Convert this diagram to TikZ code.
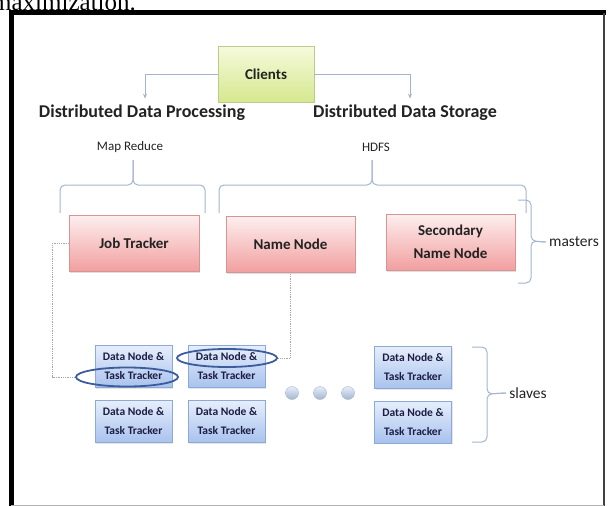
\documentclass[tikz,border=0pt]{standalone}
\usepackage{fontspec}
\setmainfont{Carlito}
\newfontfamily\bodyserif{Liberation Serif}
\usetikzlibrary{positioning,
        shapes,
        shadows,
        arrows.meta}
\definecolor{linkgray}{HTML}{A3B5CE}
\definecolor{clienttop}{HTML}{F6FADC}
\definecolor{clientbot}{HTML}{D5E88F}
\definecolor{clientline}{HTML}{B9CC8C}
\definecolor{mastertop}{HTML}{FDEFEF}
\definecolor{masterbot}{HTML}{F29F9F}
\definecolor{masterline}{HTML}{D89494}
\definecolor{slavetop}{HTML}{E6EEFB}
\definecolor{slavebot}{HTML}{A8C2EE}
\definecolor{slaveline}{HTML}{8DA9D8}
\definecolor{ringblue}{HTML}{3D5C9C}
\definecolor{darktext}{HTML}{222222}

\begin{document}
\begin{tikzpicture}[x=1pt, y=-1pt,
    clientbox/.style={rectangle, draw=clientline, top color=clienttop, bottom color=clientbot,
        minimum width=96pt, minimum height=56pt, font=\bfseries\fontsize{15}{17}\selectfont, text=darktext},
    masterbox/.style={rectangle, draw=masterline, top color=mastertop, bottom color=masterbot,
        minimum width=130pt, minimum height=56pt, align=center,
        font=\bfseries\fontsize{15}{23}\selectfont, text=darktext,
        drop shadow={shadow xshift=1pt, shadow yshift=-1.5pt, opacity=0.25}},
    slavebox/.style={rectangle, draw=slaveline, top color=slavetop, bottom color=slavebot,
        minimum width=77pt, minimum height=42pt, align=center, inner sep=1pt,
        font=\bfseries\fontsize{11.5}{19}\selectfont, text=darktext!85!blue,
        drop shadow={shadow xshift=1pt, shadow yshift=-1pt, opacity=0.2}},
    ring/.style={ellipse, draw=ringblue, line width=1.8pt, inner sep=0pt},
    dot/.style={circle, draw=linkgray, top color=slavetop, bottom color=linkgray, minimum size=13pt, inner sep=0pt},
    head/.style={font=\bfseries\fontsize{18}{20}\selectfont, text=darktext},
    sub/.style={font=\fontsize{13}{15}\selectfont, text=darktext},
    tag/.style={font=\fontsize{15.5}{17}\selectfont, text=darktext},
    link/.style={draw=linkgray, line width=1pt},
    bracket/.style={draw=linkgray, line width=1pt, rounded corners=5pt},
    dotline/.style={draw=black!35, line width=0.8pt, densely dotted}]
    \useasboundingbox (0,0) rectangle (608,506);

    % page text and frame
    \node [anchor=base west, inner sep=0pt, font=\bodyserif\fontsize{25}{25}\selectfont] (pagetext) at (-8,10.5) {maximization.};
    \draw [line width=5pt] (11,508) -- (11,12.5) -- (606,12.5);
    \draw [line width=2.5pt, black!75] (604,12.5) -- (604,506);
    \draw [line width=1pt, black!30] (11,505.5) -- (604,505.5);

    % clients and the two layers
    \node [clientbox] (clients) at (266,74) {Clients};
    \node [head] (dproc) at (142,113) {Distributed Data Processing};
    \node [head] (dstore) at (405,113) {Distributed Data Storage};
    \node [sub] (mapred) at (130,147) {Map Reduce};
    \node [sub] (hdfs) at (376,147) {HDFS};

    \draw [link, -{Stealth[length=5pt,width=4pt]}] (clients.west) -| ([xshift=3pt,yshift=3pt]dproc.north);
    \draw [link, -{Stealth[length=5pt,width=4pt]}] (clients.east) -| ([xshift=5pt,yshift=3pt]dstore.north);

    % masters
    \node [masterbox] (jobtracker) at (134,243) {Job Tracker};
    \node [masterbox, minimum width=129pt] (namenode) at (290.5,244) {Name Node};
    \node [masterbox, minimum width=129pt] (secnamenode) at (450.5,242) {Secondary\\Name Node};
    \node [tag] (masters) at (574,242) {masters};

    \draw [bracket] (60,213) |- (133,185) -- (133,160);
    \draw [bracket] (205,213) |- (133,185) -- (133,160);
    \draw [bracket] (219,213) |- (372,185) -- (372,160);
    \draw [bracket] (526,213) |- (372,185) -- (372,160);
    \draw [bracket] (518,200) -| (531,241) -- (masters.west);
    \draw [bracket] (518,283) -| (531,241) -- (masters.west);

    % slaves
    \node [slavebox] (dn1) at (133.5,366.5) {Data Node \&\\Task Tracker};
    \node [slavebox] (dn2) at (226.5,366.5) {Data Node \&\\Task Tracker};
    \node [slavebox] (dn3) at (133.5,421.5) {Data Node \&\\Task Tracker};
    \node [slavebox] (dn4) at (226.5,421.5) {Data Node \&\\Task Tracker};
    \node [slavebox] (dn5) at (413,367.5) {Data Node \&\\Task Tracker};
    \node [slavebox] (dn6) at (413,422) {Data Node \&\\Task Tracker};
    \foreach \x in {292,320,348}
        \node [dot] (dot\x) at (\x,393) {};
    \node [tag] (slaves) at (528,393) {slaves};

    \draw [bracket] (472,347) -| (487,394) -- (slaves.west);
    \draw [bracket] (472,442) -| (487,394) -- (slaves.west);

    % trackers talking to the masters
    \node [ring, minimum width=102pt, minimum height=19pt] (ring1) at (127,377) {};
    \node [ring, minimum width=100pt, minimum height=18pt] (ring2) at (227,358) {};
    \draw [dotline] (jobtracker.west) -- ++(-16,0) |- (ring1.west);
    \draw [dotline] (namenode.south) |- (ring2.east);
\end{tikzpicture}
\end{document}
